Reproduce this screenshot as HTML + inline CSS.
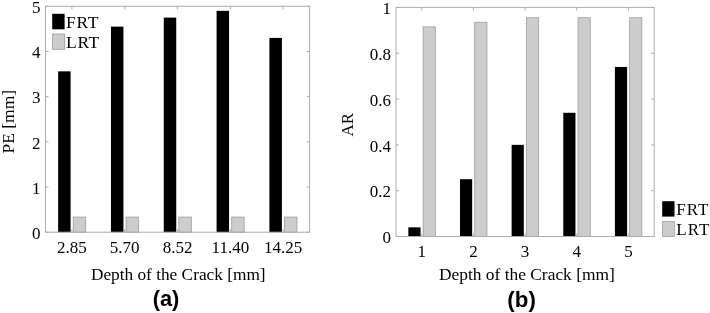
<!DOCTYPE html>
<html><head><meta charset="utf-8"><title>Figure</title>
<style>html,body{margin:0;padding:0;background:#fff}svg{display:block}text{font-family:"Liberation Serif","Times New Roman",serif;font-size:17px;fill:#000}.b{font-family:"Liberation Sans",Arial,sans-serif;font-weight:bold;font-size:20px;fill:#000}</style></head><body>
<svg width="710" height="313" viewBox="0 0 710 313">
<rect width="710" height="313" fill="#fff"/>
<rect x="58.13" y="71.36" width="12.47" height="160.84" fill="#000"/>
<rect x="73.23" y="217.06" width="12.47" height="15.14" fill="#cdcdcd" stroke="#9c9c9c" stroke-width="0.8"/>
<rect x="110.95" y="26.63" width="12.47" height="205.57" fill="#000"/>
<rect x="126.05" y="217.06" width="12.47" height="15.14" fill="#cdcdcd" stroke="#9c9c9c" stroke-width="0.8"/>
<rect x="163.77" y="17.6" width="12.47" height="214.6" fill="#000"/>
<rect x="178.87" y="217.06" width="12.47" height="15.14" fill="#cdcdcd" stroke="#9c9c9c" stroke-width="0.8"/>
<rect x="216.59" y="10.82" width="12.47" height="221.38" fill="#000"/>
<rect x="231.69" y="217.06" width="12.47" height="15.14" fill="#cdcdcd" stroke="#9c9c9c" stroke-width="0.8"/>
<rect x="269.41" y="37.93" width="12.47" height="194.27" fill="#000"/>
<rect x="284.51" y="217.06" width="12.47" height="15.14" fill="#cdcdcd" stroke="#9c9c9c" stroke-width="0.8"/>
<rect x="45.5" y="6.3" width="264.1" height="225.9" fill="none" stroke="#acacac" stroke-width="1"/>
<path d="M71.91 232.2v-3M71.91 6.3v3M124.73 232.2v-3M124.73 6.3v3M177.55 232.2v-3M177.55 6.3v3M230.37 232.2v-3M230.37 6.3v3M283.19 232.2v-3M283.19 6.3v3M45.5 232.2h3M309.6 232.2h-3M45.5 187.02h3M309.6 187.02h-3M45.5 141.84h3M309.6 141.84h-3M45.5 96.66h3M309.6 96.66h-3M45.5 51.48h3M309.6 51.48h-3M45.5 6.3h3M309.6 6.3h-3" stroke="#acacac" stroke-width="1" fill="none"/>
<text x="40.5" y="238.9" text-anchor="end">0</text>
<text x="40.5" y="193.72" text-anchor="end">1</text>
<text x="40.5" y="148.54" text-anchor="end">2</text>
<text x="40.5" y="103.36" text-anchor="end">3</text>
<text x="40.5" y="58.18" text-anchor="end">4</text>
<text x="40.5" y="13" text-anchor="end">5</text>
<text x="71.91" y="253" text-anchor="middle">2.85</text>
<text x="124.73" y="253" text-anchor="middle">5.70</text>
<text x="177.55" y="253" text-anchor="middle">8.52</text>
<text x="230.37" y="253" text-anchor="middle">11.40</text>
<text x="283.19" y="253" text-anchor="middle">14.25</text>
<text x="178.25" y="280.1" text-anchor="middle" style="font-size:17.3px">Depth of the Crack [mm]</text>
<text transform="translate(14 121.7) rotate(-90)" text-anchor="middle" style="font-size:17.5px">PE [mm]</text>
<text class="b" x="166" y="306.4" text-anchor="middle" style="font-size:21.8px">(a)</text>
<rect x="52.2" y="13.8" width="12.4" height="15.5" fill="#000"/><rect x="52.4" y="34" width="12.2" height="15.3" fill="#cdcdcd" stroke="#9c9c9c" stroke-width="0.8"/>
<text x="66.1" y="27.9" style="font-size:17.5px;letter-spacing:0.6px">FRT</text><text x="66.1" y="48.1" style="font-size:17.5px;letter-spacing:0.6px">LRT</text>
<rect x="408.35" y="227.34" width="12.19" height="9.16" fill="#000"/>
<rect x="423.11" y="26.87" width="12.19" height="209.63" fill="#cdcdcd" stroke="#9c9c9c" stroke-width="0.8"/>
<rect x="459.99" y="179.22" width="12.19" height="57.27" fill="#000"/>
<rect x="474.75" y="22.29" width="12.19" height="214.21" fill="#cdcdcd" stroke="#9c9c9c" stroke-width="0.8"/>
<rect x="511.63" y="144.86" width="12.19" height="91.64" fill="#000"/>
<rect x="526.39" y="17.71" width="12.19" height="218.79" fill="#cdcdcd" stroke="#9c9c9c" stroke-width="0.8"/>
<rect x="563.27" y="112.79" width="12.19" height="123.71" fill="#000"/>
<rect x="578.03" y="17.71" width="12.19" height="218.79" fill="#cdcdcd" stroke="#9c9c9c" stroke-width="0.8"/>
<rect x="614.91" y="66.97" width="12.19" height="169.53" fill="#000"/>
<rect x="629.67" y="17.71" width="12.19" height="218.79" fill="#cdcdcd" stroke="#9c9c9c" stroke-width="0.8"/>
<rect x="396" y="7.4" width="258.2" height="229.1" fill="none" stroke="#acacac" stroke-width="1"/>
<path d="M421.82 236.5v-3M421.82 7.4v3M473.46 236.5v-3M473.46 7.4v3M525.1 236.5v-3M525.1 7.4v3M576.74 236.5v-3M576.74 7.4v3M628.38 236.5v-3M628.38 7.4v3M396 236.5h3M654.2 236.5h-3M396 190.68h3M654.2 190.68h-3M396 144.86h3M654.2 144.86h-3M396 99.04h3M654.2 99.04h-3M396 53.22h3M654.2 53.22h-3M396 7.4h3M654.2 7.4h-3" stroke="#acacac" stroke-width="1" fill="none"/>
<text x="391" y="243.2" text-anchor="end">0</text>
<text x="391" y="197.38" text-anchor="end">0.2</text>
<text x="391" y="151.56" text-anchor="end">0.4</text>
<text x="391" y="105.74" text-anchor="end">0.6</text>
<text x="391" y="59.92" text-anchor="end">0.8</text>
<text x="391" y="14.1" text-anchor="end">1</text>
<text x="421.82" y="257.3" text-anchor="middle">1</text>
<text x="473.46" y="257.3" text-anchor="middle">2</text>
<text x="525.1" y="257.3" text-anchor="middle">3</text>
<text x="576.74" y="257.3" text-anchor="middle">4</text>
<text x="628.38" y="257.3" text-anchor="middle">5</text>
<text x="526.9" y="280.1" text-anchor="middle" style="font-size:17.4px">Depth of the Crack [mm]</text>
<text transform="translate(352.8 124.7) rotate(-90)" text-anchor="middle">AR</text>
<text class="b" x="521.6" y="307.1" text-anchor="middle" style="font-size:22.3px">(b)</text>
<rect x="662.2" y="201.2" width="12.3" height="15.4" fill="#000"/><rect x="662.5" y="221.6" width="11.9" height="14.9" fill="#cdcdcd" stroke="#9c9c9c" stroke-width="0.8"/>
<text x="676.3" y="215.4" style="letter-spacing:0.95px">FRT</text><text x="676.3" y="235.3" style="letter-spacing:0.95px">LRT</text>
</svg>
</body></html>
